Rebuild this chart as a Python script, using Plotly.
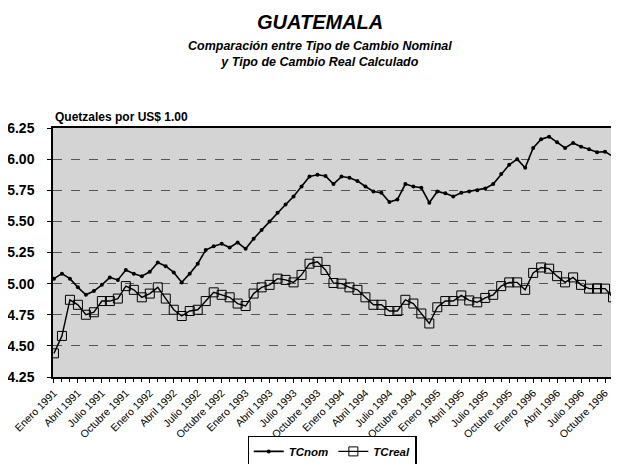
import plotly.graph_objects as go

# ---- data (monthly, Enero 1991 .. Noviembre 1996) ----
anios = [1991, 1992, 1993, 1994, 1995, 1996]
meses_etiqueta = ["Enero", "Abril", "Julio", "Octubre"]

tc_nom = [5.04, 5.08, 5.04, 4.97, 4.91, 4.94, 4.99, 5.05, 5.03, 5.11, 5.08, 5.06,
          5.095, 5.17, 5.14, 5.09, 5.01, 5.08, 5.16, 5.27, 5.30, 5.32, 5.29, 5.33,
          5.28, 5.36, 5.43, 5.50, 5.57, 5.635, 5.70, 5.78, 5.86, 5.875, 5.865, 5.80,
          5.86, 5.85, 5.825, 5.78, 5.74, 5.73, 5.655, 5.675, 5.80, 5.78, 5.77, 5.65,
          5.74, 5.725, 5.70, 5.73, 5.74, 5.75, 5.765, 5.80, 5.88, 5.955, 6.00, 5.93,
          6.09, 6.16, 6.18, 6.135, 6.09, 6.13, 6.10, 6.08, 6.055, 6.06, 6.02]

tc_real = [4.44, 4.58, 4.87, 4.83, 4.75, 4.77, 4.86, 4.86, 4.88, 4.98, 4.95, 4.89,
           4.92, 4.97, 4.88, 4.79, 4.74, 4.78, 4.79, 4.86, 4.93, 4.91, 4.89, 4.84,
           4.82, 4.92, 4.97, 4.99, 5.04, 5.03, 5.01, 5.07, 5.16, 5.175, 5.11, 5.005,
           5.00, 4.97, 4.95, 4.89, 4.83, 4.83, 4.78, 4.78, 4.87, 4.84, 4.76, 4.68,
           4.81, 4.86, 4.86, 4.905, 4.865, 4.85, 4.885, 4.91, 4.98, 5.01, 5.01, 4.95,
           5.086, 5.13, 5.12, 5.06, 5.01, 5.05, 4.99, 4.96, 4.96, 4.96, 4.89]

y_ticks = [4.25, 4.50, 4.75, 5.00, 5.25, 5.50, 5.75, 6.00, 6.25]

mes_idx = list(range(len(tc_nom)))
tick_vals = [3 * i for i in range(len(anios) * len(meses_etiqueta))]
tick_text = [f"{m} {a}" for a in anios for m in meses_etiqueta]

FONT = "Liberation Sans, Arial, sans-serif"

fig = go.Figure()
fig.add_trace(go.Scatter(
    x=mes_idx, y=tc_nom, name="TCnom", mode="lines+markers",
    line=dict(color="black", width=1.6),
    marker=dict(symbol="circle", size=4, color="black"),
))
fig.add_trace(go.Scatter(
    x=mes_idx, y=tc_real, name="TCreal", mode="lines+markers",
    line=dict(color="black", width=1.4),
    marker=dict(symbol="square-open", size=9, color="black", line=dict(width=1)),
))

# page body has an 8px default margin, so the figure is 8px smaller
fig.update_layout(
    width=611, height=456,
    margin=dict(l=45, r=0, t=120, b=87, autoexpand=False),
    paper_bgcolor="white",
    plot_bgcolor="#d4d4d4",
    font=dict(family=FONT, color="black"),
    showlegend=True,
    legend=dict(
        orientation="h", x=0.493, xanchor="center", y=-0.30, yanchor="middle",
        bordercolor="black", borderwidth=1.2, bgcolor="white",
        font=dict(size=11.5, family=FONT, weight="bold", style="italic"),
        itemwidth=30, tracegroupgap=0,
    ),
    xaxis=dict(
        range=[-0.12, 70.75], automargin=False,
        tickvals=tick_vals, ticktext=tick_text, tickangle=-45,
        tickfont=dict(size=10.5, family=FONT, color="black"),
        ticks="outside", ticklen=4, tickcolor="black",
        minor=dict(dtick=1, tick0=0, ticks="outside", ticklen=3, tickcolor="black"),
        showline=True, linecolor="black", linewidth=1.5, mirror=True,
        showgrid=False, zeroline=False,
    ),
    yaxis=dict(
        range=[4.25, 6.25], tickvals=y_ticks, automargin=False,
        ticktext=[f"{v:.2f}" for v in y_ticks],
        tickfont=dict(size=14, family=FONT, weight="bold", color="black"),
        ticks="outside", ticklen=4, tickcolor="black", ticklabelstandoff=10,
        showline=True, linecolor="black", linewidth=1.5,
        showgrid=True, gridcolor="#555555", gridwidth=1, griddash="dash",
        zeroline=False,
    ),
    annotations=[
        dict(text="GUATEMALA", xref="paper", yref="paper", x=0.4717, y=1.426,
             xanchor="center", yanchor="middle", showarrow=False,
             font=dict(size=20, family=FONT, weight="bold", style="italic")),
        dict(text="Comparación entre Tipo de Cambio Nominal<br>y Tipo de Cambio Real Calculado",
             xref="paper", yref="paper", x=0.4717, y=1.297,
             xanchor="center", yanchor="middle", showarrow=False,
             font=dict(size=12.5, family=FONT, weight="bold", style="italic")),
        dict(text="Quetzales por US$ 1.00", xref="paper", yref="paper", x=0.0, y=1.044,
             xanchor="left", yanchor="middle", showarrow=False,
             font=dict(size=12, family=FONT, weight="bold")),
    ],
)

fig.write_html("out.html")
